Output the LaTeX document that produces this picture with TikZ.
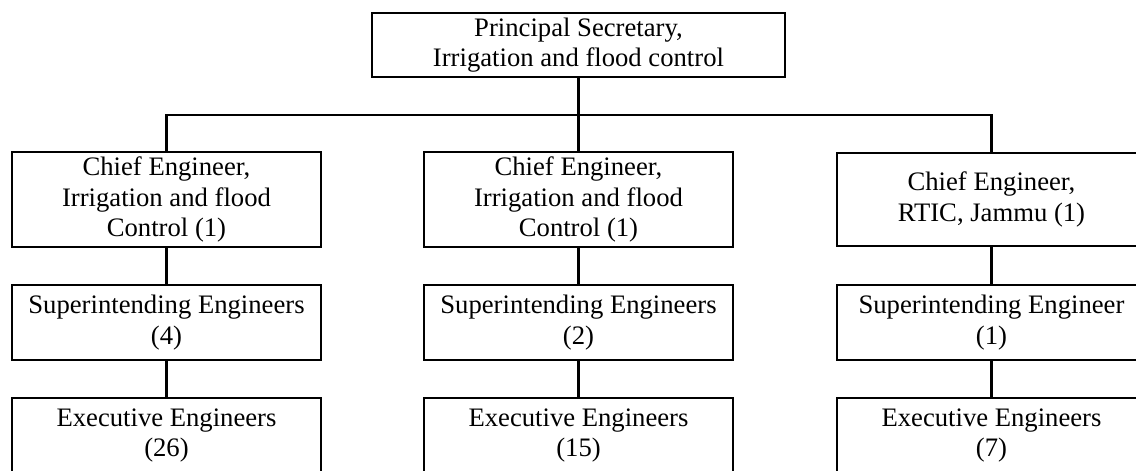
\documentclass[tikz,border=0pt]{standalone}
\usepackage{fontspec}
\setmainfont{Liberation Serif}
\usepackage{tikz}

\tikzset{
	box/.style={draw, align=center, minimum width=139pt, inner sep=2pt},
	chief/.style={box, minimum height=41.9pt},
	superint/.style={box, minimum height=33.75pt},
	exec/.style={box, minimum height=33.75pt}
}

\begin{document}
\begin{tikzpicture}[x=0.45pt, y=0.45pt, font=\fontsize{12}{13.8}\selectfont, line width=1pt]
	\useasboundingbox (0,0) rectangle (1136,470);
	% top
	\node[box, minimum width=185.9pt, minimum height=28.8pt] (secretary) at (578.5,425) {Principal Secretary,\\Irrigation and flood control};
	\coordinate (bus) at (578.5,355);
	% chief engineers
	\node[chief] (chiefA) at (166.5,270.5) {Chief Engineer,\\Irrigation and flood\\Control (1)};
	\node[chief] (chiefB) at (578.5,270.5) {Chief Engineer,\\Irrigation and flood\\Control (1)};
	\node[chief] (chiefC) at (991.5,270.5) {Chief Engineer,\\RTIC, Jammu (1)};
	% superintending engineers
	\node[superint] (seA) at (166.5,147.5) {Superintending Engineers\\(4)};
	\node[superint] (seB) at (578.5,147.5) {Superintending Engineers\\(2)};
	\node[superint] (seC) at (991.5,147.5) {Superintending Engineer\\(1)};
	% executive engineers
	\node[exec] (eeA) at (166.5,34.5) {Executive Engineers\\(26)};
	\node[exec] (eeB) at (578.5,34.5) {Executive Engineers\\(15)};
	\node[exec] (eeC) at (991.5,34.5) {Executive Engineers\\(7)};
	% lines
	\draw (secretary) -- (chiefB);
	\draw (chiefA.north) -- (chiefA.north |- bus) -- (chiefC.north |- bus) -- (chiefC.north);
	\draw (chiefA) -- (seA);
	\draw (chiefB) -- (seB);
	\draw (chiefC) -- (seC);
	\draw (seA) -- (eeA);
	\draw (seB) -- (eeB);
	\draw (seC) -- (eeC);
\end{tikzpicture}
\end{document}
